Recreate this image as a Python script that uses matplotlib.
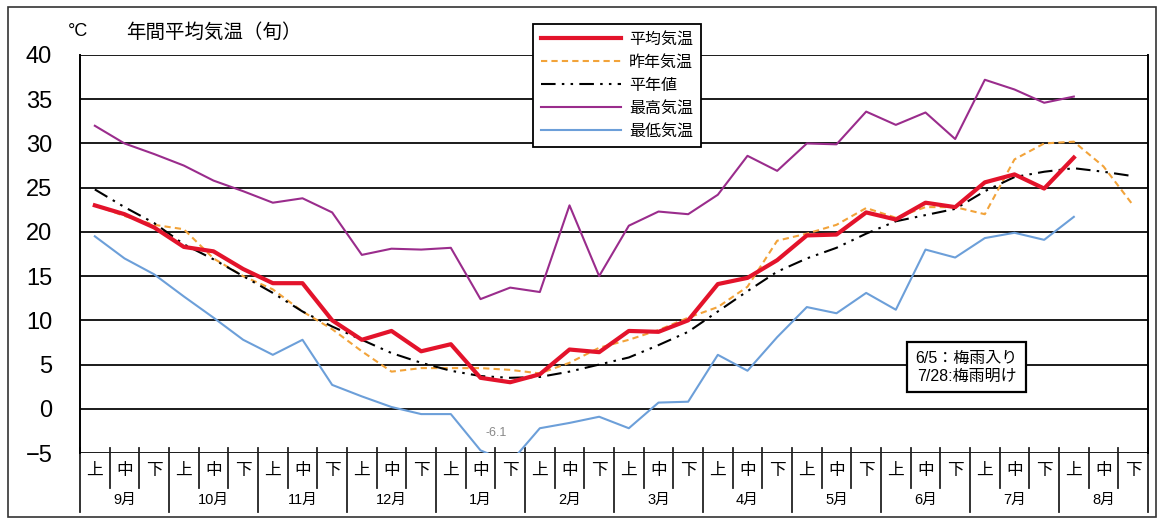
import matplotlib
matplotlib.use('Agg')
import matplotlib.pyplot as plt
import matplotlib.transforms as mtransforms
from matplotlib.patches import Rectangle
import numpy as np

plt.rcParams['font.family'] = ['Liberation Sans', 'Noto Sans CJK JP', 'DejaVu Sans']

# dekads: 上/中/下 for each month, Sep .. Aug
MONTHS = ['9月', '10月', '11月', '12月', '1月', '2月', '3月', '4月', '5月', '6月', '7月', '8月']
DEKADS = ['上', '中', '下']

# 平均気温 (this year, up to 8月上)
mean_temp = [23.0, 22.0, 20.5, 18.3, 17.8, 15.8, 14.2, 14.2, 10.0, 7.8, 8.8, 6.5,
             7.3, 3.5, 3.0, 3.9, 6.7, 6.4, 8.8, 8.7, 10.0, 14.1, 14.8, 16.8,
             19.6, 19.7, 22.2, 21.4, 23.3, 22.8, 25.6, 26.5, 24.9, 28.4]
# 昨年気温
last_year = [23.0, 21.8, 20.8, 20.3, 17.0, 15.0, 13.5, 11.0, 9.0, 6.5, 4.2, 4.6,
             4.6, 4.6, 4.4, 4.0, 5.2, 6.9, 7.8, 8.9, 10.3, 11.5, 13.8, 19.0,
             19.8, 20.8, 22.7, 21.6, 22.8, 22.8, 22.0, 28.2, 30.0, 30.2, 27.4, 23.0]
# 平年値
normal = [24.8, 22.8, 21.0, 18.6, 16.9, 15.0, 13.1, 11.0, 9.3, 7.8, 6.3, 5.2,
          4.3, 3.7, 3.5, 3.6, 4.2, 5.0, 5.8, 7.2, 8.7, 11.0, 13.3, 15.5,
          17.0, 18.2, 19.8, 21.2, 21.9, 22.6, 24.6, 26.2, 26.8, 27.2, 26.8, 26.3]
# 最高気温
max_temp = [32.0, 30.0, 28.8, 27.5, 25.8, 24.6, 23.3, 23.8, 22.2, 17.4, 18.1, 18.0,
            18.2, 12.4, 13.7, 13.2, 23.0, 15.0, 20.7, 22.3, 22.0, 24.2, 28.6, 26.9,
            30.0, 29.9, 33.6, 32.1, 33.5, 30.5, 37.2, 36.1, 34.6, 35.3]
# 最低気温
min_temp = [19.5, 17.0, 15.2, 12.7, 10.3, 7.8, 6.1, 7.8, 2.7, 1.4, 0.2, -0.6,
            -0.6, -4.7, -6.1, -2.2, -1.6, -0.9, -2.2, 0.7, 0.8, 6.1, 4.3, 8.1,
            11.5, 10.8, 13.1, 11.2, 18.0, 17.1, 19.3, 19.9, 19.1, 21.7]

n_slots = len(MONTHS) * len(DEKADS)

fig = plt.figure(figsize=(11.6, 5.22), dpi=100)
ax = fig.add_axes([80 / 1160, 1 - 453 / 522, 1068 / 1160, 398 / 522])

ax.plot(range(len(max_temp)), max_temp, color='#9a2c8c', lw=1.5, label='最高気温', zorder=3)
ax.plot(range(len(min_temp)), min_temp, color='#6c9fd9', lw=1.5, label='最低気温', zorder=3)
ax.plot(range(len(last_year)), last_year, color='#f2a33a', lw=1.5, ls=(0, (3, 2)), label='昨年気温', zorder=4)
ax.plot(range(len(normal)), normal, color='black', lw=1.5, ls=(0, (7, 3, 1.2, 3, 1.2, 3)), label='平年値', zorder=4)
ax.plot(range(len(mean_temp)), mean_temp, color='#e3132b', lw=3.0, label='平均気温', zorder=5)

ax.set_xlim(-0.5, n_slots - 0.5)
ax.set_ylim(-5, 40)
ax.set_yticks(np.arange(-5, 41, 5))
ax.set_yticklabels(['−5'] + [str(v) for v in range(0, 41, 5)])
ax.tick_params(axis='y', length=0, pad=20, labelsize=17)
ax.set_xticks([])
ax.yaxis.grid(True, color='#1a1a1a', lw=1.4)
ax.set_axisbelow(True)
for s in ['top', 'bottom']:
    ax.spines[s].set_visible(False)
ax.spines['left'].set_linewidth(1.4)
ax.spines['right'].set_linewidth(1.4)

# -6.1 data label for the lowest min
imin = int(np.argmin(min_temp))
ax.annotate('-6.1', (imin, -5), xytext=(-10, 12), textcoords='offset points',
            ha='center', fontsize=9, color='#888888')

# x-axis table: dekads and months
trans = mtransforms.blended_transform_factory(ax.transData, ax.transAxes)
for k in range(n_slots + 1):
    xb = k - 0.5
    long_line = (k % 3 == 0)
    y0 = -0.148 if long_line else -0.088
    ax.plot([xb, xb], [0.012, y0], transform=trans, color='#222222', lw=1.3, clip_on=False)
for k in range(n_slots):
    ax.text(k, -0.043, DEKADS[k % 3], transform=trans, ha='center', va='center', fontsize=12)
for m, name in enumerate(MONTHS):
    ax.text(m * 3 + 1, -0.117, name, transform=trans, ha='center', va='center', fontsize=10.5)

# titles
fig.text(68 / 1160, 1 - 32 / 522, '°C', fontsize=13, va='center')
fig.text(126 / 1160, 1 - 32 / 522, '年間平均気温（旬）', fontsize=14, va='center')

# legend
handles, labels = ax.get_legend_handles_labels()
order = ['平均気温', '昨年気温', '平年値', '最高気温', '最低気温']
hmap = dict(zip(labels, handles))
leg = fig.legend([hmap[o] for o in order], order, loc='upper left',
                 bbox_to_anchor=(533 / 1160, 1 - 24 / 522), fontsize=11.5,
                 frameon=True, fancybox=False, edgecolor='black', framealpha=1,
                 handlelength=5.0, handletextpad=0.5, labelspacing=0.5,
                 borderpad=0.5, borderaxespad=0)
leg.get_frame().set_linewidth(1.3)

# rainy season note
ax.text(0.83, 0.216, '6/5：梅雨入り\n7/28:梅雨明け', transform=ax.transAxes,
        ha='center', va='center', fontsize=11.5, linespacing=1.25, zorder=6,
        bbox=dict(boxstyle='square,pad=0.55', facecolor='white', edgecolor='black', lw=1.6))

# outer frame
fig.patches.append(Rectangle((8 / 1160, 5 / 522), 1148 / 1160, 510 / 522, transform=fig.transFigure,
                             fill=False, edgecolor='#333333', lw=1.2))

fig.savefig('out.png', dpi=100)
